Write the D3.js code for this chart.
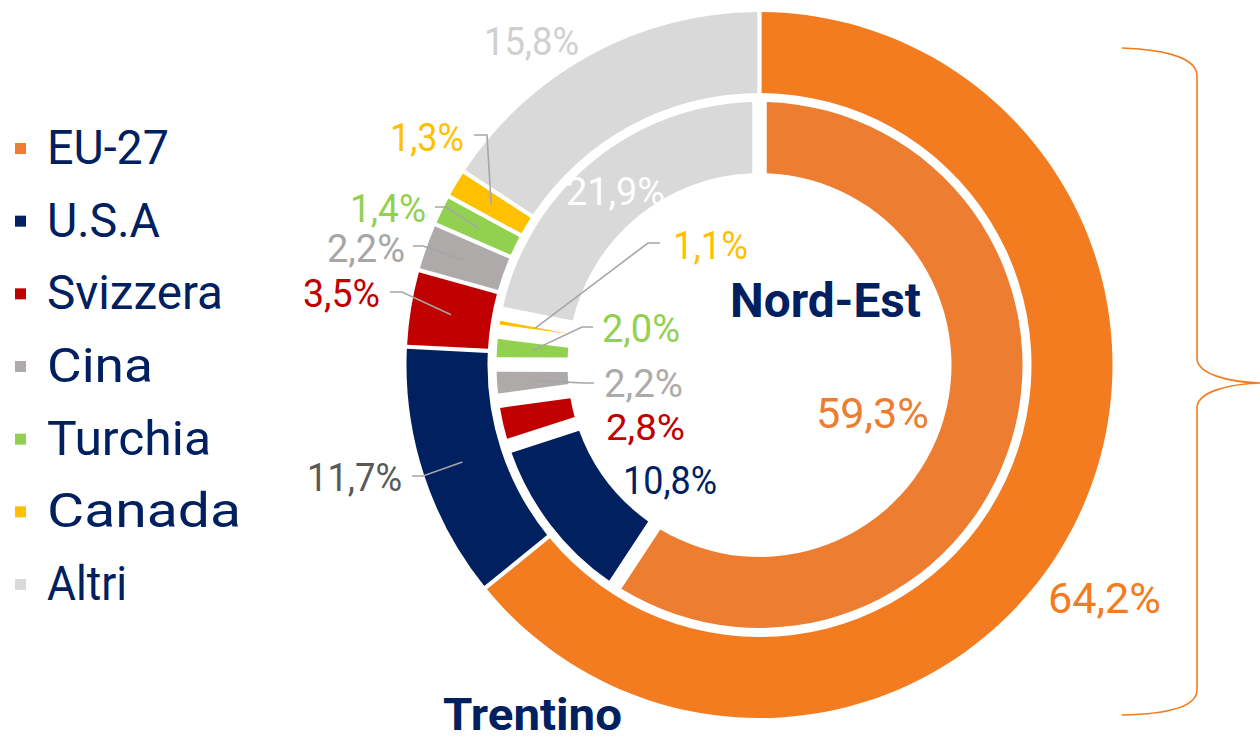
<!DOCTYPE html>
<html>
<head>
<meta charset="utf-8">
<script src="https://cdn.jsdelivr.net/npm/d3@7"></script>
<style>
  html, body { margin: 0; padding: 0; background: #ffffff; }
  svg { display: block; }
</style>
</head>
<body>
<svg id="chart" width="1260" height="740"></svg>
<script>
// ---------------- DATA ----------------
const categories = ["EU-27", "U.S.A", "Svizzera", "Cina", "Turchia", "Canada", "Altri"];
const trentinoValues = [64.2, 11.7, 3.5, 2.2, 1.4, 1.3, 15.8];   // outer ring
const nordEstValues  = [59.3, 10.8, 2.8, 2.2, 2.0, 1.1, 21.9];   // inner ring
const ringTitles = ["Trentino", "Nord-Est"];

// ---------------- STYLE / LAYOUT ----------------
const outerColors = ["#F37C21", "#002060", "#C00000", "#AEAAAA", "#92D050", "#FFC000", "#D9D9D9"];
const innerColors = ["#ED7D31", "#002060", "#C00000", "#AEAAAA", "#92D050", "#FFC000", "#D9D9D9"];
const legendColors = ["#ED7D31", "#002060", "#C00000", "#AEAAAA", "#92D050", "#FFC000", "#D9D9D9"];
const outerLabelColors = ["#F37C21", "#595959", "#C00000", "#A6A6A6", "#92D050", "#FFC000", "#D0D0D0"];
const innerLabelColors = ["#ED7D31", "#002060", "#C00000", "#AEAAAA", "#92D050", "#FFC000", "#FFFFFF"];
const navy = "#002060";
const leaderColor = "#A6A6A6";
const FONT = "Roboto, 'DejaVu Sans', sans-serif";

const cx = 759.5, cy = 365;
const outerR = [272, 353], innerR = [192, 263];

// label placement: [left x, baseline y, text width, font size]
const outerLabelPos = [[1048, 613, 113, 43], [307, 491, 95, 39], [303, 307, 77, 39], [327, 262, 78, 39],
                       [350, 222, 76, 39], [390, 151, 74, 39], [484, 55, 95, 38]];
const innerLabelPos = [[816, 428, 113, 43], [623, 494, 94, 38], [606, 440, 79, 37], [604, 397, 79, 39],
                       [602, 342, 78, 38], [673, 259, 75, 38], [566, 205, 99, 39]];
// leader lines: [start, elbow] in page coordinates; end = slice centroid
const outerLeaders = {5: [[474, 135], [487, 135]], 4: [[435, 207], [446, 207]], 3: [[413, 246], [423, 246]],
                      2: [[390, 292], [402, 292]], 1: [[412, 476], [423, 476]]};
const innerLeaders = {5: [[660, 243], [648, 243]], 4: [[593, 327], [582, 327]], 3: [[594, 383], [584, 383]]};
const legendTextWidths = [122, 113, 176, 106, 164, 194, 80];

// ---------------- DRAW ----------------
const svg = d3.select("#chart");
const fmt = v => d3.format(".1f")(v).replace(".", ",") + "%";

const pie = d3.pie().sort(null).value(d => d);
const outerArc = d3.arc().innerRadius(outerR[0]).outerRadius(outerR[1]).padAngle(0.021).padRadius(200);
const innerArc = d3.arc().innerRadius(innerR[0]).outerRadius(innerR[1]).padAngle(0.0725).padRadius(200);

const g = svg.append("g").attr("transform", `translate(${cx},${cy})`);

const outerPie = pie(trentinoValues);
const innerPie = pie(nordEstValues);

g.selectAll("path.outer").data(outerPie).join("path")
  .attr("class", "outer")
  .attr("d", outerArc)
  .attr("fill", (d, i) => outerColors[i]);

g.selectAll("path.inner").data(innerPie).join("path")
  .attr("class", "inner")
  .attr("d", innerArc)
  .attr("fill", (d, i) => innerColors[i]);

// leader lines
function drawLeaders(pieData, arc, leaders) {
  Object.keys(leaders).forEach(k => {
    const i = +k;
    const c = arc.centroid(pieData[i]);
    const pts = leaders[k].concat([[c[0] + cx, c[1] + cy]]);
    svg.append("path")
      .attr("d", d3.line()(pts))
      .attr("fill", "none")
      .attr("stroke", leaderColor)
      .attr("stroke-width", 1.6);
  });
}
drawLeaders(outerPie, outerArc, outerLeaders);
drawLeaders(innerPie, innerArc, innerLeaders);

// value labels
function drawLabels(values, pos, colors) {
  svg.append("g").selectAll("text").data(values).join("text")
    .attr("x", (d, i) => pos[i][0])
    .attr("y", (d, i) => pos[i][1])
    .attr("font-family", FONT)
    .attr("font-size", (d, i) => pos[i][3])
    .attr("fill", (d, i) => colors[i])
    .attr("textLength", (d, i) => pos[i][2])
    .attr("lengthAdjust", "spacingAndGlyphs")
    .text(d => fmt(d));
}
drawLabels(trentinoValues, outerLabelPos, outerLabelColors);
drawLabels(nordEstValues, innerLabelPos, innerLabelColors);

// ring titles
svg.append("text")
  .attr("x", 730).attr("y", 317)
  .attr("font-family", FONT).attr("font-weight", "bold").attr("font-size", 48)
  .attr("fill", navy)
  .attr("textLength", 191).attr("lengthAdjust", "spacingAndGlyphs")
  .text(ringTitles[1]);
svg.append("text")
  .attr("x", 443).attr("y", 730)
  .attr("font-family", FONT).attr("font-weight", "bold").attr("font-size", 44)
  .attr("fill", navy)
  .attr("textLength", 179).attr("lengthAdjust", "spacingAndGlyphs")
  .text(ringTitles[0]);

// legend
const legend = svg.append("g");
const legendY = d3.scalePoint().domain(categories).range([164, 600]);
const items = legend.selectAll("g").data(categories).join("g");
items.append("rect")
  .attr("x", 15).attr("y", d => legendY(d) - 21)
  .attr("width", 11).attr("height", 11)
  .attr("fill", (d, i) => legendColors[i]);
items.append("text")
  .attr("x", 47).attr("y", d => legendY(d))
  .attr("font-family", FONT).attr("font-size", 48)
  .attr("fill", navy)
  .attr("textLength", (d, i) => legendTextWidths[i]).attr("lengthAdjust", "spacingAndGlyphs")
  .text(d => d);

// brace on the right
svg.append("path")
  .attr("d", "M1122,48 C1172,50 1197,60 1197,76 L1197,358 C1197,374 1228,382 1260,383 C1228,384 1197,392 1197,408 L1197,690 C1197,706 1172,714 1122,715")
  .attr("fill", "none")
  .attr("stroke", "#F37C21")
  .attr("stroke-width", 1.6);
</script>
</body>
</html>
